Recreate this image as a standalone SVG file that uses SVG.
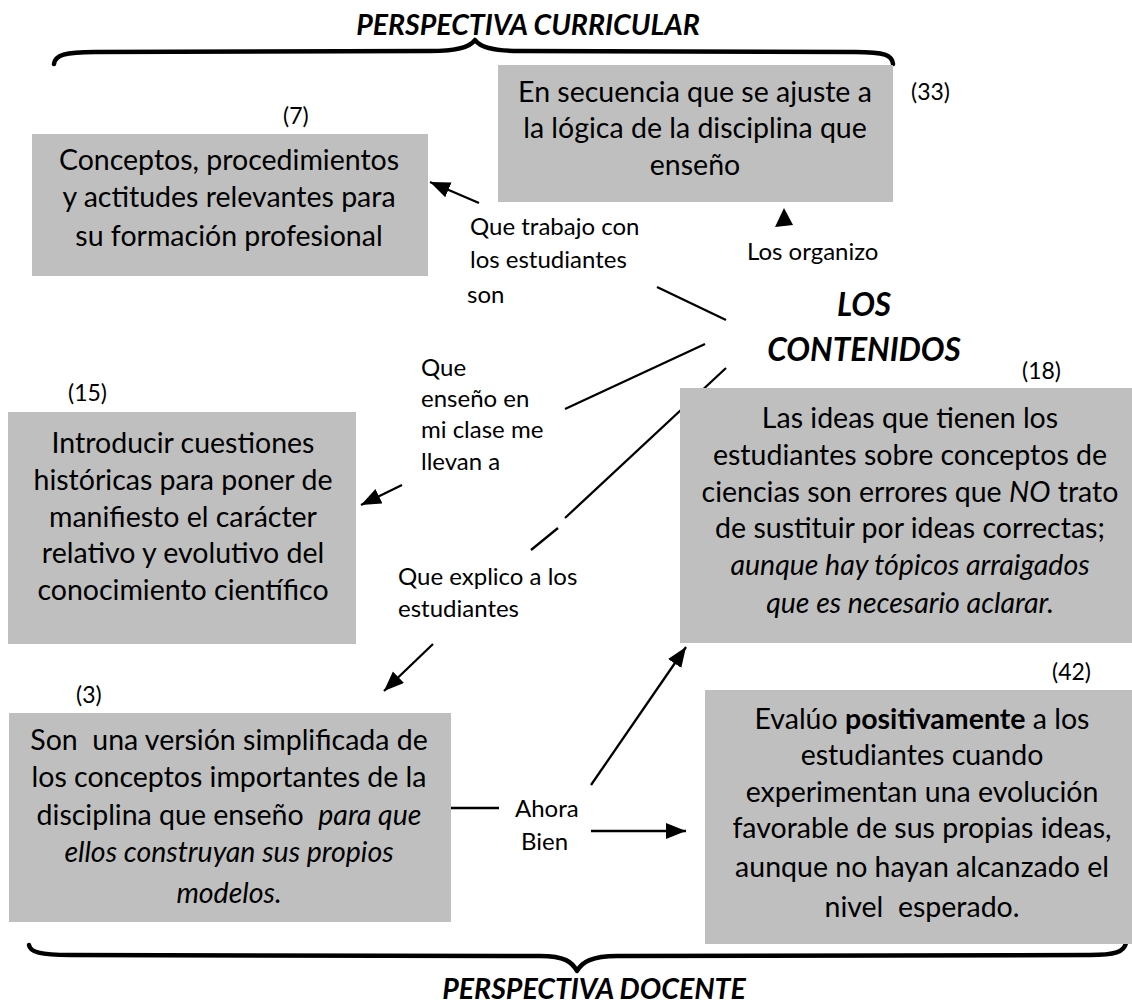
<svg xmlns="http://www.w3.org/2000/svg" width="1132" height="1008" viewBox="0 0 1132 1008">
<defs>
<style>
text{font-family:Lato,"Open Sans","DejaVu Sans",sans-serif;fill:#000;}
.box{fill:#bfbfbf;stroke:none;}
.bt{font-size:28.5px;text-anchor:middle;}
.lb{font-size:24px;}
.num{font-size:23px;}
.ttl{font-size:28.5px;font-weight:bold;font-style:italic;text-anchor:middle;}
.center{font-size:31.5px;font-weight:bold;font-style:italic;text-anchor:middle;}
.it{font-style:italic;}
.b{font-weight:bold;}
.ln{stroke:#000;stroke-width:2.3;fill:none;}
.brace{stroke:#000;stroke-width:4.5;fill:none;stroke-linecap:round;stroke-linejoin:round;}
</style>
<marker id="ah" markerUnits="userSpaceOnUse" markerWidth="22" markerHeight="18" refX="20" refY="8" orient="auto">
<path d="M0,0 L20,8 L0,16 z" fill="#000"/>
</marker>
</defs>
<rect width="1132" height="1008" fill="#fff"/>

<g id="titles">
<text class="ttl" x="528" y="35">PERSPECTIVA CURRICULAR</text>
<text class="ttl" x="594" y="999">PERSPECTIVA DOCENTE</text>
<path class="brace" d="M54,64 C55,55 65,52 95,52 L430,51 C458,51 470,47 475,40 C480,47 492,51 520,51 L855,52 C885,52 892,55 893,64"/>
<path class="brace" d="M29,945 C30,952 40,955 70,955 L540,956 C565,956 572,962 577,971 C582,962 592,956 617,956 L1090,955 C1115,955 1124,952 1126,943"/>
</g>

<g id="connectors">
<line class="ln" x1="726" y1="320" x2="657" y2="287"/>
<line class="ln" x1="479" y1="203" x2="430" y2="182" marker-end="url(#ah)"/>
<line class="ln" x1="705" y1="344" x2="565" y2="409"/>
<line class="ln" x1="402" y1="485" x2="361" y2="505" marker-end="url(#ah)"/>
<line class="ln" x1="726" y1="368" x2="565" y2="518"/>
<line class="ln" x1="558" y1="528" x2="531" y2="550"/>
<line class="ln" x1="433" y1="644" x2="384" y2="691" marker-end="url(#ah)"/>
<polygon points="784,208 775,227 793,225" fill="#000"/>
<line class="ln" x1="451" y1="808" x2="499" y2="808"/>
<line class="ln" x1="591" y1="785" x2="686" y2="647" marker-end="url(#ah)"/>
<line class="ln" x1="591" y1="831" x2="686" y2="831" marker-end="url(#ah)"/>
</g>

<g id="labels">
<text class="lb" x="470" y="235">Que trabajo con</text>
<text class="lb" x="470" y="268">los estudiantes</text>
<text class="lb" x="467" y="303">son</text>
<text class="lb" x="747" y="260">Los organizo</text>
<text class="lb" x="421" y="376">Que</text>
<text class="lb" x="421" y="407">enseño en</text>
<text class="lb" x="421" y="438">mi clase me</text>
<text class="lb" x="421" y="470">llevan a</text>
<text class="lb" x="398" y="585">Que explico a los</text>
<text class="lb" x="398" y="617">estudiantes</text>
<text class="lb" x="515" y="817">Ahora</text>
<text class="lb" x="521" y="850">Bien</text>
</g>

<g id="center-node">
<text class="center" x="864" y="316">LOS</text>
<text class="center" x="864" y="361">CONTENIDOS</text>
</g>

<g id="node-33">
<rect class="box" x="498" y="65" width="395" height="137"/>
<text class="bt" x="695" y="102">En secuencia que se ajuste a</text>
<text class="bt" x="695" y="138">la lógica de la disciplina que</text>
<text class="bt" x="695" y="175">enseño</text>
<text class="num" x="911" y="100">(33)</text>
</g>

<g id="node-7">
<rect class="box" x="32" y="134" width="396" height="142"/>
<text class="bt" x="229" y="170">Conceptos, procedimientos</text>
<text class="bt" x="229" y="207">y actitudes relevantes para</text>
<text class="bt" x="229" y="246">su formación profesional</text>
<text class="num" x="283" y="124">(7)</text>
</g>

<g id="node-15">
<rect class="box" x="8" y="412" width="348" height="232"/>
<text class="bt" x="183" y="453">Introducir cuestiones</text>
<text class="bt" x="183" y="490">históricas para poner de</text>
<text class="bt" x="183" y="527">manifiesto el carácter</text>
<text class="bt" x="183" y="563">relativo y evolutivo del</text>
<text class="bt" x="183" y="600">conocimiento científico</text>
<text class="num" x="68" y="401">(15)</text>
</g>

<g id="node-18">
<rect class="box" x="680" y="388" width="452" height="255"/>
<text class="bt" x="910" y="428">Las ideas que tienen los</text>
<text class="bt" x="910" y="465">estudiantes sobre conceptos de</text>
<text class="bt" x="910" y="502">ciencias son errores que <tspan class="it">NO</tspan> trato</text>
<text class="bt" x="910" y="538">de sustituir por ideas correctas;</text>
<text class="bt it" x="910" y="575">aunque hay tópicos arraigados</text>
<text class="bt it" x="910" y="613">que es necesario aclarar.</text>
<text class="num" x="1022" y="379">(18)</text>
</g>

<g id="node-3">
<rect class="box" x="9" y="713" width="442" height="209"/>
<text class="bt" x="229" y="750" xml:space="preserve">Son  una versión simplificada de</text>
<text class="bt" x="229" y="787">los conceptos importantes de la</text>
<text class="bt" x="229" y="825" xml:space="preserve">disciplina que enseño  <tspan class="it">para que</tspan></text>
<text class="bt it" x="229" y="862">ellos construyan sus propios</text>
<text class="bt it" x="229" y="903">modelos.</text>
<text class="num" x="76" y="703">(3)</text>
</g>

<g id="node-42">
<rect class="box" x="705" y="690" width="427" height="254"/>
<text class="bt" x="922" y="729">Evalúo <tspan class="b">positivamente</tspan> a los</text>
<text class="bt" x="922" y="765">estudiantes cuando</text>
<text class="bt" x="922" y="802">experimentan una evolución</text>
<text class="bt" x="922" y="838">favorable de sus propias ideas,</text>
<text class="bt" x="922" y="877">aunque no hayan alcanzado el</text>
<text class="bt" x="922" y="917" xml:space="preserve">nivel  esperado.</text>
<text class="num" x="1052" y="680">(42)</text>
</g>
</svg>
